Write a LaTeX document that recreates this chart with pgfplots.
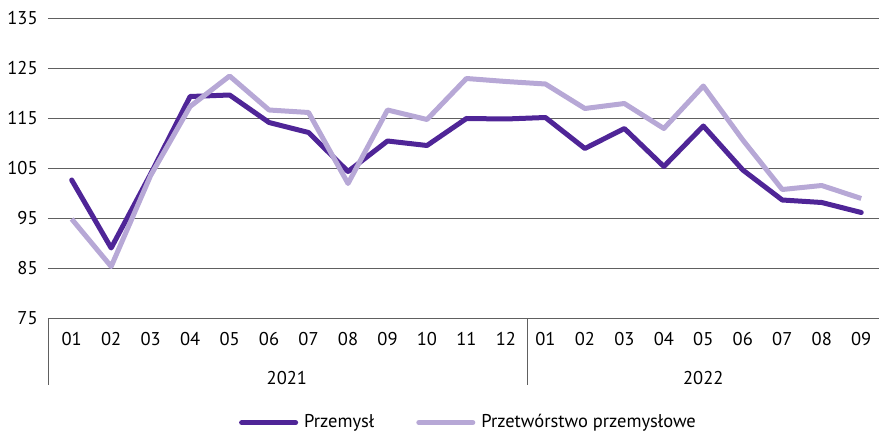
\documentclass[border=0pt]{standalone}
\usepackage{fontspec}
\setmainfont{PT Sans}
\usepackage{pgfplots}
\pgfplotsset{compat=1.18}
\definecolor{dark}{HTML}{4F2597}
\definecolor{light}{HTML}{B7A8D6}
\definecolor{gridc}{HTML}{606060}
\begin{document}
\fontsize{18.5pt}{22pt}\selectfont
\begin{tikzpicture}
\useasboundingbox (-48pt,-116pt) rectangle (831pt,318pt);
\begin{axis}[
  scale only axis, width=831pt, height=300pt,
  at={(0,0)}, anchor=south west,
  xmin=-0.6, xmax=20.45, ymin=75, ymax=135,
  ytick={75,85,95,105,115,125,135},
  xtick={0,...,20},
  xticklabels={01,02,03,04,05,06,07,08,09,10,11,12,01,02,03,04,05,06,07,08,09},
  major tick length=0pt,
  axis x line*=bottom, axis y line*=left,
  y axis line style={draw=none},
  x axis line style={gridc, line width=0.8pt},
  ymajorgrids, major grid style={gridc, line width=0.8pt},
  tick label style={font=\fontsize{18.5pt}{22pt}\selectfont, text=black},
  /pgf/number format/assume math mode=true,
  yticklabel style={xshift=-4pt},
  ytick style={draw=none},
  xtick style={draw=none},
  xticklabel style={yshift=-8pt},
  clip=false,
  legend columns=2,
  legend style={draw=none, at={(0.5,-0.308)}, xshift=5pt, anchor=north, font=\fontsize{18.5pt}{22pt}\selectfont,
    /tikz/every even column/.append style={column sep=40pt}},
  legend image code/.code={\draw[#1, line width=5pt, line cap=round] (0pt,0pt) -- (54pt,0pt);},
]
\addplot[dark, line width=5pt, line join=round, line cap=round] coordinates {
(0,102.6) (1,89.0) (2,103.8) (3,119.3) (4,119.6) (5,114.1) (6,112.1) (7,104.3) (8,110.4) (9,109.5) (10,114.9)
(11,114.8) (12,115.1) (13,108.9) (14,112.9) (15,105.3) (16,113.4) (17,104.6) (18,98.6) (19,98.1) (20,96.1)};
\addlegendentry{\hspace{4pt}Przemysł}
\addplot[light, line width=5pt, line join=round] coordinates {
(0,94.8) (1,85.3) (2,103.5) (3,117.3) (4,123.4) (5,116.6) (6,116.1) (7,101.9) (8,116.6) (9,114.7) (10,122.9)
(11,122.3) (12,121.8) (13,116.9) (14,117.9) (15,112.9) (16,121.4) (17,110.6) (18,100.7) (19,101.5) (20,98.9)};
\addlegendentry{\hspace{4pt}Przetwórstwo przemysłowe}
\draw[gridc, line width=0.8pt] (axis cs:-0.6,75) -- ++(0pt,-67pt);
\draw[gridc, line width=0.8pt] (axis cs:11.55,75) -- ++(0pt,-67pt);
\node[anchor=base] at ([yshift=-66pt]axis cs:5.45,75) {2021};
\node[anchor=base] at ([yshift=-66pt]axis cs:16,75) {2022};
\end{axis}
\end{tikzpicture}
\end{document}
